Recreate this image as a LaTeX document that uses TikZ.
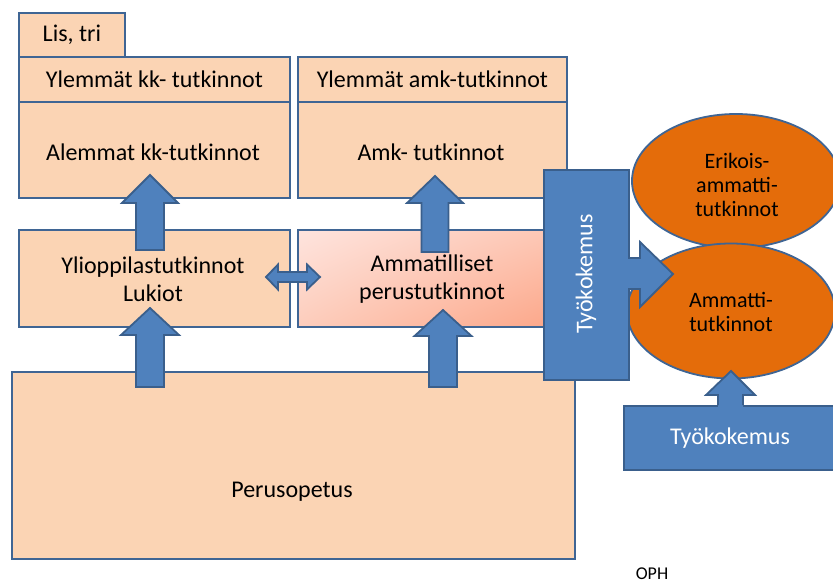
\documentclass[tikz,border=0pt]{standalone}
\usepackage{fontspec}
\setmainfont{Carlito}
\usetikzlibrary{shapes.geometric,shadings}
\definecolor{peach}{HTML}{FBD4B4}
\definecolor{edgeblue}{HTML}{3F6594}
\definecolor{arrowblue}{HTML}{4F81BD}
\definecolor{arrowedge}{HTML}{3A5F8C}
\definecolor{ovalorange}{HTML}{E46C0A}
\definecolor{gradUL}{HTML}{FEE4DE}
\definecolor{gradUR}{HTML}{FDC6B3}
\definecolor{gradLL}{HTML}{FDCDBC}
\definecolor{gradLR}{HTML}{FCA587}
\tikzset{
  box/.style={draw=edgeblue, fill=peach, line width=1.8pt, inner sep=0pt,
    anchor=north west, font=\fontsize{24}{28}\selectfont, align=center},
  bluebox/.style={draw=arrowedge, fill=arrowblue, line width=1.8pt, inner sep=0pt,
    anchor=north west},
  oval/.style={draw=edgeblue, fill=ovalorange, line width=1.8pt, ellipse, inner sep=0pt},
  ovaltext/.style={font=\fontsize{22}{24}\selectfont, align=center},
  blockarrow/.style={draw=arrowedge, fill=arrowblue, line width=1.8pt, line join=miter},
  boxtext/.style={font=\fontsize{24}{28}\selectfont, align=center},
  whitetext/.style={text=white, font=\fontsize{24}{28}\selectfont}
}
% upward block arrow: centre x, tip y, head base y, bottom y, half shaft, half head
\newcommand{\upblock}[6]{%
  \draw[blockarrow] (#1-#5,#4) -- (#1-#5,#3) -- (#1-#6,#3) -- (#1,#2)
    -- (#1+#6,#3) -- (#1+#5,#3) -- (#1+#5,#4) -- cycle;}
\begin{document}
\begin{tikzpicture}[x=1pt,y=-1pt]
\useasboundingbox (0,0) rectangle (833,583);
\clip (0,0) rectangle (833,583);
\fill[white] (0,0) rectangle (833,583);

% university column
\node[box, minimum width=106pt, minimum height=44pt] (lis) at (18,12) {Lis, tri};
\node[box, minimum width=271pt, minimum height=45pt] (ylkk) at (18,56) {Ylemmät kk- tutkinnot};
\node[box, minimum width=271pt, minimum height=96pt] (alkk) at (18,101) {};
\node[boxtext] (alkktxt) at (153,152) {Alemmat kk-tutkinnot};

% polytechnic column
\node[box, minimum width=269pt, minimum height=45pt] (ylamk) at (297,56) {Ylemmät amk-tutkinnot};
\node[box, minimum width=269pt, minimum height=96pt] (amk) at (297,101) {};
\node[boxtext] (amktxt) at (431,152) {Amk- tutkinnot};

% secondary level
\node[box, minimum width=271pt, minimum height=97pt] (lukio) at (18,229) {};
\node[boxtext] (lukiotxt) at (153,279) {Ylioppilastutkinnot\\Lukiot};
\node[box, minimum width=265pt, minimum height=97pt,
  upper left=gradUL, upper right=gradUR,
  lower left=gradLL, lower right=gradLR] (ammat) at (297,229) {};
\node[boxtext] (ammattxt) at (432,279) {Ammatilliset\\perustutkinnot};

% basic education
\node[box, minimum width=563pt, minimum height=187pt] (perus) at (11,371) {};
\node[boxtext] (perustxt) at (292,492) {Perusopetus};

% arrows between levels
\upblock{150}{175}{203}{250}{14}{28}
\upblock{435}{176}{203}{252}{13.5}{28}
\upblock{150}{308}{335}{387}{14}{29}
\upblock{443}{310}{336}{387}{14}{28.5}
\draw[blockarrow] (266,277) -- (278,264.5) -- (278,272) -- (307,272) -- (307,264.5)
  -- (320,277) -- (307,289.5) -- (307,282) -- (278,282) -- (278,289.5) -- cycle;

% qualifications for working life
\node[oval, minimum width=208pt, minimum height=134pt] (erik) at (736,181) {};
\node[ovaltext] (eriktxt) at (737,185) {Erikois-\\ammatti-\\tutkinnot};
\node[oval, minimum width=208pt, minimum height=135pt] (amtut) at (731,311) {};
\node[ovaltext] (amtuttxt) at (731,312) {Ammatti-\\tutkinnot};

% work experience, vertical
\node[bluebox, minimum width=85pt, minimum height=210pt] (tyo1) at (543,169) {};
\node[whitetext, rotate=90] (tyo1txt) at (586,274) {Työkokemus};
\fill[arrowblue] (626,258) -- (640,258) -- (640,242) -- (673,274) -- (640,307) -- (640,289) -- (626,289) -- cycle;
\draw[blockarrow] (628,258) -- (640,258) -- (640,242) -- (673,274) -- (640,307) -- (640,289) -- (628,289);

% work experience, bottom
\node[bluebox, minimum width=230pt, minimum height=64pt] (tyo2) at (623,405) {};
\node[whitetext] (tyo2txt) at (730,438) {Työkokemus};
\fill[arrowblue] (718,407) -- (718,395) -- (706,395) -- (731,371) -- (755,395) -- (743,395) -- (743,407) -- cycle;
\draw[blockarrow] (718,405) -- (718,395) -- (706,395) -- (731,371) -- (755,395) -- (743,395) -- (743,405);

\node[font=\fontsize{18}{20}\selectfont] (oph) at (652,574) {OPH};
\end{tikzpicture}
\end{document}
